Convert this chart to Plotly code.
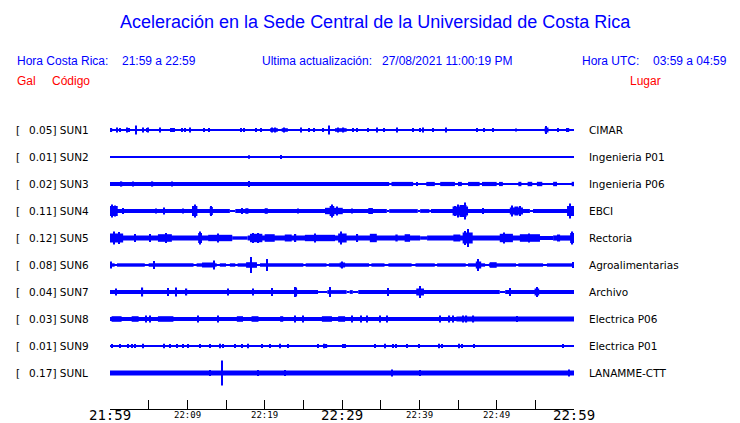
import plotly.graph_objects as go

# ---------------- data ----------------
codes = ["SUN1", "SUN2", "SUN3", "SUN4", "SUN5", "SUN6", "SUN7", "SUN8", "SUN9", "SUNL"]
peaks_gal = [0.05, 0.01, 0.02, 0.11, 0.12, 0.08, 0.04, 0.03, 0.01, 0.17]
places = ["CIMAR", "Ingenieria P01", "Ingenieria P06", "EBCI", "Rectoria",
          "Agroalimentarias", "Archivo", "Electrica P06", "Electrica P01", "LANAMME-CTT"]

tick_minutes = [0, 5, 10, 15, 20, 25, 30, 35, 40, 45, 50, 55, 60]
label_minutes = [0, 10, 20, 30, 40, 50, 60]
label_texts = ["21:59", "22:09", "22:19", "22:29", "22:39", "22:49", "22:59"]
label_big = [True, False, False, True, False, False, True]

# envelopes: segments (start_min, end_min, half_amplitude), spikes (minute, half_amplitude)
SUN1_segments = [(0, 60, 0.9), (7.76, 8.4, 2.0), (20.7, 21.7, 1.8), (22.2, 23.0, 1.8),
                 (29.1, 30.6, 1.8), (56.2, 56.7, 2.5)]
SUN1_spikes = [(0.2, 2), (0.87, 2.5), (1.29, 2), (2.16, 2.5), (2.46, 2), (3.36, 4.5), (4.23, 2.5),
               (4.75, 2), (4.95, 2.5), (6.47, 2.5), (9.31, 2), (9.70, 2), (10.35, 2.5), (12.16, 2),
               (12.8, 2), (16.94, 2), (17.33, 2), (18.88, 2), (19.49, 2), (20.9, 2.5), (21.4, 2.5),
               (22.5, 2.5), (24.7, 2.5), (25.7, 2),
               (26.4, 2), (27.5, 2), (28.3, 4.5), (29.5, 2.5), (30.2, 2.5), (31.4, 2), (31.9, 2),
               (33.4, 2), (34.5, 2.5),
               (35.4, 2), (37.1, 2.5), (39.2, 2), (40.1, 2), (40.5, 2.5), (41.8, 2), (43.4, 2.5),
               (47.5, 2), (48.4, 2), (49.5, 2), (52.5, 1.5), (56.4, 4), (57.9, 2), (59.1, 2), (59.3, 2)]

SUN2_segments = [(0, 60, 0.75)]
SUN2_spikes = [(17.97, 1.8), (22.07, 2)]

SUN3_segments = [(0, 60, 1.0), (0, 36.1, 2.1), (36.4, 39.2, 2.1), (39.6, 39.8, 2.1),
                 (40.9, 42.0, 2.1), (42.7, 44.6, 2.1), (45.0, 45.5, 2.1), (46.3, 47.8, 2.1),
                 (48.1, 50.0, 2.1), (50.3, 50.8, 2.1), (52.8, 53.2, 2.2), (54.0, 54.6, 2.2),
                 (55.2, 55.9, 2.2), (57.3, 57.8, 2.2), (59.7, 60, 2.2)]
SUN3_spikes = [(18.0, 3), (1.5, 2.6), (3.0, 2.6), (5.5, 2.6), (8.0, 2.6)]

SUN4_segments = [(0, 15.5, 1.9), (15.5, 16.2, 0.9), (16.2, 35.8, 1.9), (35.8, 36.1, 0.9),
                 (36.1, 39.8, 1.9), (39.8, 40.1, 0.9), (40.1, 41.3, 1.9), (41.3, 41.5, 0.9),
                 (41.5, 54.3, 1.9), (54.3, 54.7, 0.9), (54.7, 60, 1.9),
                 (0, 1.0, 5.0), (10.6, 11.3, 5.0), (12.9, 13.3, 4.0), (17.5, 17.9, 2.8),
                 (20.0, 20.4, 2.8), (27.8, 30.1, 3.2), (28.4, 29.0, 5.0), (33.4, 34.0, 3),
                 (44.3, 46.3, 4.5), (45.2, 46.1, 6), (51.7, 53.4, 3.5), (52.3, 52.8, 4.5),
                 (59.1, 60, 5.0)]
SUN4_spikes = [(0.3, 6.5), (0.7, 5.5), (1.7, 3), (6.0, 2.5), (7.0, 3.5), (9.4, 2.5), (11.0, 6.5),
               (13.1, 5), (17.1, 3), (24.3, 2.5), (26.4, 2), (28.7, 6.5), (29.4, 4.5), (31.3, 2.5),
               (45.9, 8.5), (45.0, 6.5), (44.6, 5), (48.2, 3), (52.0, 5.5), (53.0, 5), (59.5, 7.5)]

SUN5_segments = [(0, 15.8, 2.6), (15.8, 17.8, 1.7), (17.8, 40.1, 2.6), (40.1, 41.0, 1.7),
                 (41.0, 55.6, 2.6), (55.6, 57.3, 2.0), (57.3, 60, 2.6),
                 (0, 1.7, 4.5), (5.1, 5.3, 4), (6.2, 8.0, 3.8), (11.4, 11.9, 5.0), (12.7, 15.8, 3.2),
                 (18.1, 19.7, 4.2), (20.0, 21.3, 3.8), (22.6, 23.5, 3.5), (25.2, 29.1, 3.2),
                 (29.5, 30.6, 4.5), (33.6, 34.5, 4.2), (36.9, 37.2, 3.5), (38.1, 38.8, 3.8),
                 (44.4, 45.3, 3.5), (45.6, 46.9, 5.5), (50.4, 52.1, 4.2), (53.0, 55.6, 3.8),
                 (57.8, 58.2, 3.5), (59.5, 60, 5.0)]
SUN5_spikes = [(0.5, 6.5), (1.2, 6), (3.2, 4), (7.2, 5), (11.6, 6.5), (14.0, 4.5), (18.5, 5),
               (19.2, 5), (24.0, 4), (26.5, 4.5), (29.9, 6.5), (32.0, 4), (45.9, 7), (46.3, 9),
               (51.0, 5.5), (54.2, 4.5), (59.8, 6.5)]

SUN6_segments = [(0, 60, 0.8), (0, 0.6, 1.7), (0.9, 4.5, 1.7), (5.0, 10.8, 1.7), (11.2, 13.8, 1.7),
                 (14.2, 15.0, 1.7), (15.5, 16.2, 1.7), (16.5, 19.0, 1.7), (19.4, 25.0, 1.7),
                 (25.3, 28.0, 1.7), (28.3, 33.5, 1.7), (33.8, 35.5, 1.7), (36.0, 39.0, 1.7),
                 (39.5, 42.0, 1.7), (42.3, 46.0, 1.7), (46.3, 48.5, 1.7), (49.0, 52.5, 1.7),
                 (52.8, 56.0, 1.7), (56.5, 60, 1.7),
                 (11.9, 13.6, 2.5), (17.6, 19.0, 2.8), (29.7, 30.4, 2.5), (47.3, 48.0, 3.5),
                 (49.1, 50.0, 2.8)]
SUN6_spikes = [(0.15, 3.5), (5.7, 4), (13.4, 4.5), (18.2, 8), (20.3, 6), (30.0, 3.5), (47.6, 6),
               (59.9, 3)]

SUN7_segments = [(0, 26.9, 1.9), (26.9, 28.1, 0.9), (28.1, 30.6, 1.9), (30.6, 31.0, 0.9),
                 (31.0, 31.4, 1.9), (31.4, 32.1, 0.9), (32.1, 50.4, 1.9), (50.4, 51.1, 0.9),
                 (51.1, 60, 1.9), (23.8, 24.2, 3.5), (39.6, 40.6, 3.5), (54.9, 55.5, 3.5)]
SUN7_spikes = [(0.8, 3.5), (4.2, 4.5), (7.5, 4), (8.5, 4.5), (9.9, 3.5), (15.3, 3.5), (18.5, 3.5),
               (20.9, 4), (23.9, 5), (24.1, 4.5), (28.4, 5), (36.0, 4), (40.1, 6), (51.7, 4),
               (55.2, 5)]

SUN8_segments = [(0, 60, 2.0), (0.2, 1.5, 2.8), (2.8, 3.7, 2.8), (6.2, 8.2, 2.8), (16.4, 17.2, 2.8),
                 (18.3, 19.2, 2.8), (22.0, 22.4, 2.8), (27.4, 28.7, 2.8), (29.5, 30.4, 2.8),
                 (44.8, 60, 2.4)]
SUN8_spikes = [(4.7, 3.5), (5.2, 3.5), (11.4, 3.5), (14.0, 3.5), (23.9, 3.5), (25.0, 3.5),
               (31.3, 3.5), (32.5, 3.5), (33.2, 3.5), (34.9, 3.5), (35.8, 3.5), (42.7, 3.5),
               (43.9, 3.5), (44.4, 3.5), (45.7, 3.5), (46.1, 3.5), (47.0, 3.5), (52.6, 3)]

SUN9_segments = [(0, 60, 0.75)]
SUN9_spikes = [(0.21, 2), (1.29, 2), (2.37, 2), (2.80, 2), (3.23, 2), (4.31, 2.2), (7.03, 2.2),
               (7.76, 2), (8.62, 2), (9.48, 2), (10.13, 2), (11.64, 2), (12.93, 2), (14.22, 2.2),
               (14.66, 2), (16.16, 2), (17.03, 2), (17.89, 2.2), (19.61, 2), (20.69, 2), (21.98, 2.2),
               (23.06, 2), (26.94, 2), (27.72, 2.2), (28.0, 2), (30.17, 2), (30.39, 2), (34.27, 2),
               (35.56, 2.2), (36.64, 2), (36.98, 2), (38.36, 2), (40.0, 2), (42.55, 2.2), (42.89, 2),
               (45.13, 2.2), (45.56, 2), (47.11, 2), (58.54, 2)]

SUNL_segments = [(0, 60, 2.4)]
SUNL_spikes = [(14.53, 12.5), (12.93, 3), (19.18, 3), (22.63, 3), (36.42, 3.5), (40.09, 3),
               (59.4, 3.5)]

station_segments = [SUN1_segments, SUN2_segments, SUN3_segments, SUN4_segments, SUN5_segments,
                    SUN6_segments, SUN7_segments, SUN8_segments, SUN9_segments, SUNL_segments]
station_spikes = [SUN1_spikes, SUN2_spikes, SUN3_spikes, SUN4_spikes, SUN5_spikes,
                  SUN6_spikes, SUN7_spikes, SUN8_spikes, SUN9_spikes, SUNL_spikes]

# ---------------- layout constants ----------------
W, H = 740, 423
ML, MR, MT, MB = 110, 166, 100, 14
ROW = 27           # display units between rows
SPIKE_W = 0.16     # minutes
BLUE = "#0000ff"
RED = "#ff0000"
plot_w = W - ML - MR
plot_h = H - MT - MB
y_top = 30
y_bot = -(plot_h - y_top)


def px_x(px):
    return (px - ML) / plot_w


def px_y(py):
    return (H - MB - py) / plot_h


fig = go.Figure()
for i in range(len(codes)):
    yc = -ROW * i
    xs, ws, bs, hs = [], [], [], []
    for (s, e, a) in station_segments[i]:
        xs.append((s + e) / 2)
        ws.append(e - s)
        bs.append(yc - a)
        hs.append(2 * a)
    for (t, a) in station_spikes[i]:
        xs.append(t)
        ws.append(SPIKE_W)
        bs.append(yc - a)
        hs.append(2 * a)
    fig.add_trace(go.Bar(x=xs, y=hs, base=bs, width=ws, marker=dict(color=BLUE, line=dict(width=0)),
                         hoverinfo="skip", showlegend=False))

ann = []
row_font = dict(family="DejaVu Sans", size=10.5, color="#000000")
for i, (c, p, pl) in enumerate(zip(codes, peaks_gal, places)):
    yc = -ROW * i
    ann.append(dict(x=px_x(14), y=yc, xref="paper", yref="y", text="[", showarrow=False,
                    xanchor="left", yanchor="middle", font=row_font))
    ann.append(dict(x=px_x(27), y=yc, xref="paper", yref="y", text=f"{p:.2f}] {c}",
                    showarrow=False, xanchor="left", yanchor="middle", font=row_font))
    ann.append(dict(x=px_x(587), y=yc, xref="paper", yref="y", text=pl, showarrow=False,
                    xanchor="left", yanchor="middle", font=row_font))

for m, t, big in zip(label_minutes, label_texts, label_big):
    ann.append(dict(x=m, y=px_y(415), xref="x", yref="paper", text=t, showarrow=False,
                    xanchor="center", yanchor="middle",
                    font=dict(family="DejaVu Sans Mono", size=14 if big else 9, color="#000000")))

hdr = dict(family="Liberation Sans", size=12, color=BLUE)
hdr_red = dict(family="Liberation Sans", size=12, color=RED)
ann += [
    dict(x=px_x(375), y=px_y(22), text="Aceleración en la Sede Central de la Universidad de Costa Rica",
         xanchor="center", font=dict(family="Liberation Sans", size=18, color=BLUE)),
    dict(x=px_x(15), y=px_y(61), text="Hora Costa Rica:", xanchor="left", font=hdr),
    dict(x=px_x(120), y=px_y(61), text="21:59 a 22:59", xanchor="left", font=hdr),
    dict(x=px_x(260), y=px_y(61), text="Ultima actualización:", xanchor="left", font=hdr),
    dict(x=px_x(380), y=px_y(61), text="27/08/2021 11:00:19 PM", xanchor="left", font=hdr),
    dict(x=px_x(580), y=px_y(61), text="Hora UTC:", xanchor="left", font=hdr),
    dict(x=px_x(651), y=px_y(61), text="03:59 a 04:59", xanchor="left", font=hdr),
    dict(x=px_x(15), y=px_y(81), text="Gal", xanchor="left", font=hdr_red),
    dict(x=px_x(50), y=px_y(81), text="Código", xanchor="left", font=hdr_red),
    dict(x=px_x(628), y=px_y(81), text="Lugar", xanchor="left", font=hdr_red),
]
for a in ann[-10:]:
    a.update(xref="paper", yref="paper", showarrow=False, yanchor="middle")

fig.update_layout(
    width=W, height=H, margin=dict(l=ML, r=MR, t=MT, b=MB, pad=0),
    paper_bgcolor="white", plot_bgcolor="white", barmode="overlay", showlegend=False,
    annotations=ann,
    xaxis=dict(range=[0, 60], tickmode="array", tickvals=tick_minutes, ticks="inside", ticklen=9,
               tickwidth=1, tickcolor="#000000", showticklabels=False, showline=True,
               linecolor="#000000", linewidth=1, showgrid=False, zeroline=False, fixedrange=True),
    yaxis=dict(range=[y_bot, y_top], visible=False, fixedrange=True),
)

fig.write_html("out.html", config={"displayModeBar": False},
               post_script="document.body.style.margin='0px';document.body.style.padding='0px';")
